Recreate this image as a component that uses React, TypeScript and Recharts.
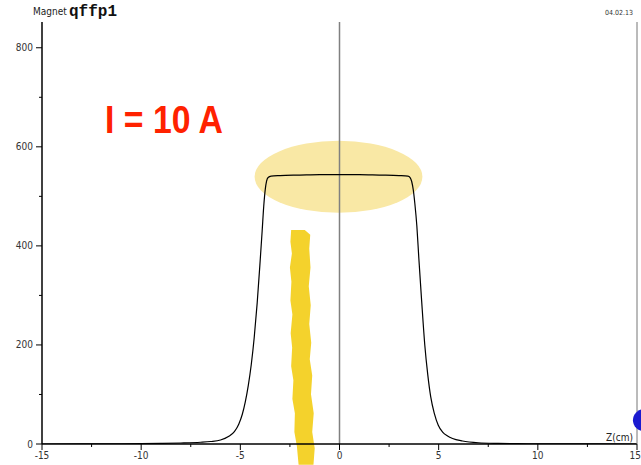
import { LineChart, Line, XAxis, YAxis, ReferenceLine, ReferenceArea, ReferenceDot } from 'recharts';

// Field profile of magnet qffp1 at I = 10 A
const zPoints = [
    -15, -13, -11, -9, -8, -7, -6.5, -6, -5.6, -5.3, -5.08, -4.9, -4.75, -4.6, -4.45, -4.3,
    -4.15, -4.0, -3.9, -3.82, -3.74, -3.68, -3.6, -3.45, -3, -2, -1, 0, 1, 2, 3,
    3.45, 3.56, 3.64, 3.72, 3.8, 3.9, 4.0, 4.14, 4.3, 4.45, 4.6, 4.78, 4.98, 5.2,
    5.45, 5.7, 6.2, 7, 8, 9, 11, 13, 15
];
const fieldValues = [
    0, 0.2, 0.5, 1.2, 2, 3.5, 5, 8, 15, 25, 40, 60, 85, 118, 160, 215,
    285, 370, 430, 480, 515, 530, 538, 541, 542, 543, 544, 544, 544, 543, 542,
    541, 538, 530, 513, 485, 440, 375, 290, 200, 140, 95, 62, 38, 24,
    16, 11, 6, 2.5, 1.2, 0.6, 0.3, 0.1, 0
];
const xTicks = [-15, -12.5, -10, -7.5, -5, -2.5, 0, 2.5, 5, 7.5, 10, 12.5, 15];
const yTicks = [0, 100, 200, 300, 400, 500, 600, 700, 800];

const data = zPoints.map((z, i) => ({ z, b: fieldValues[i] }));

const FONT = "'Liberation Sans Narrow', 'DejaVu Sans Condensed', 'Liberation Sans', sans-serif";

const BottomTick = ({ x, y, payload }: any) => {
    const v = payload.value;
    const major = v % 5 === 0;
    const last = v === 15;
    return <g>
        <line x1={x} x2={x} y1={y} y2={y + (major ? 6 : 3)} stroke="#000" strokeWidth={1} />
        {major && <text x={last ? x + 4 : x} y={y + 15} textAnchor={last ? 'end' : 'middle'} fontSize={10} fill="#333" fontFamily={FONT}>{v}</text>}
    </g>;
};

const TopTick = ({ x, y, payload }: any) => {
    const major = payload.value % 5 === 0;
    return <line x1={x} x2={x} y1={y} y2={y - (major ? 5 : 3)} stroke="#444" strokeWidth={1} />;
};

const LeftTick = ({ x, y, payload }: any) => {
    const v = payload.value;
    const major = v % 200 === 0;
    return <g>
        <line x1={x - (major ? 6 : 3)} x2={x} y1={y} y2={y} stroke="#000" strokeWidth={1} />
        {major && <text x={x - 9} y={y + 3.5} textAnchor="end" fontSize={10} fill="#333" fontFamily={FONT}>{v}</text>}
    </g>;
};

const RightTick = ({ x, y, payload }: any) => {
    const major = payload.value % 200 === 0;
    return <line x1={x} x2={x + (major ? 4 : 3)} y1={y} y2={y} stroke="#444" strokeWidth={1} />;
};

const strokeLeft = [[0.05, 0], [0.02, 0.05], [0.08, 0.1], [0, 0.16], [0.06, 0.22], [0.02, 0.3], [0.1, 0.36], [0.03, 0.44],
    [0.09, 0.5], [0.05, 0.58], [0.14, 0.64], [0.1, 0.72], [0.2, 0.78], [0.18, 0.86], [0.28, 0.92], [0.35, 1]];
const strokeRight = [[0.95, 1], [1, 0.93], [0.9, 0.86], [0.96, 0.78], [0.85, 0.7], [0.9, 0.62], [0.8, 0.55], [0.86, 0.48],
    [0.78, 0.4], [0.84, 0.32], [0.76, 0.24], [0.83, 0.16], [0.78, 0.08], [0.82, 0.02], [0.6, 0]];

const ScribbleShape = ({ x, y, width, height }: any) => {
    const pts = [...strokeLeft, ...strokeRight].map(([fx, fy]) => `${x + fx * width},${y + fy * height}`).join(' ');
    return <polygon points={pts} fill="#f4d22c" />;
};

const EllipseShape = ({ x, y, width, height }: any) => (
    <ellipse cx={x + width / 2} cy={y + height / 2} rx={width / 2} ry={height / 2} fill="#f9e8a5" />
);

export default function App() {
    return <div style={{ position: 'absolute', left: 0, top: 0, width: 641, height: 465 }}>
        <LineChart width={641} height={465} data={data} margin={{ top: 22, right: 0, bottom: 0, left: 0 }}>
            <XAxis dataKey="z" type="number" domain={[-15, 15]} ticks={xTicks} interval={0} allowDataOverflow
                height={21} tickSize={0} tickMargin={0} tickLine={false} tick={<BottomTick />}
                axisLine={{ stroke: '#000', strokeWidth: 1.5 }} />
            <XAxis xAxisId="top" orientation="top" dataKey="z" type="number" domain={[-15, 15]} ticks={xTicks} interval={0}
                height={0} tickSize={0} tickMargin={0} tickLine={false} tick={<TopTick />}
                axisLine={{ stroke: '#777', strokeWidth: 1 }} />
            <YAxis type="number" domain={[0, 852]} ticks={yTicks} interval={0} allowDataOverflow width={42}
                tickSize={0} tickMargin={0} tickLine={false} tick={<LeftTick />}
                axisLine={{ stroke: '#000', strokeWidth: 1.5 }} />
            <YAxis yAxisId="right" orientation="right" type="number" domain={[0, 852]} ticks={yTicks} interval={0} width={4}
                tickSize={0} tickMargin={0} tickLine={false} tick={<RightTick />}
                axisLine={{ stroke: '#777', strokeWidth: 1 }} />

            <ReferenceArea x1={-4.28} x2={4.18} y1={467} y2={612} ifOverflow="visible" shape={<EllipseShape />} />
            <ReferenceLine x={0} stroke="#808080" strokeWidth={1.5} />
            <Line dataKey="b" type="monotone" stroke="#000" strokeWidth={1.2} dot={false} isAnimationActive={false} />
            <ReferenceArea x1={-2.5} x2={-1.25} y1={-42} y2={432} ifOverflow="visible" shape={<ScribbleShape />} />
            <ReferenceDot x={15.35} y={48} r={11} fill="#1a1ad0" stroke="none" ifOverflow="visible" />
        </LineChart>
        <svg width={641} height={465} style={{ position: 'absolute', left: 0, top: 0, pointerEvents: 'none' }}>
            <text x={33} y={15} fontSize={10} fill="#222" fontFamily={FONT}>Magnet</text>
            <text x={69} y={16} fontSize={16} fontWeight="bold" fill="#111" fontFamily="'Liberation Mono', monospace">qffp1</text>
            <text x={633} y={15} fontSize={7} textAnchor="end" fill="#333" fontFamily={FONT}>04.02.13</text>
            <text x={633} y={441} fontSize={10} textAnchor="end" fill="#222" fontFamily={FONT}>Z(cm)</text>
            <text x={105} y={133} fontSize={39} fontWeight="bold" fill="#ff2200" fontFamily="'Liberation Sans', Arial, sans-serif"
                textLength={118} lengthAdjust="spacingAndGlyphs">I = 10 A</text>
        </svg>
    </div>;
}
